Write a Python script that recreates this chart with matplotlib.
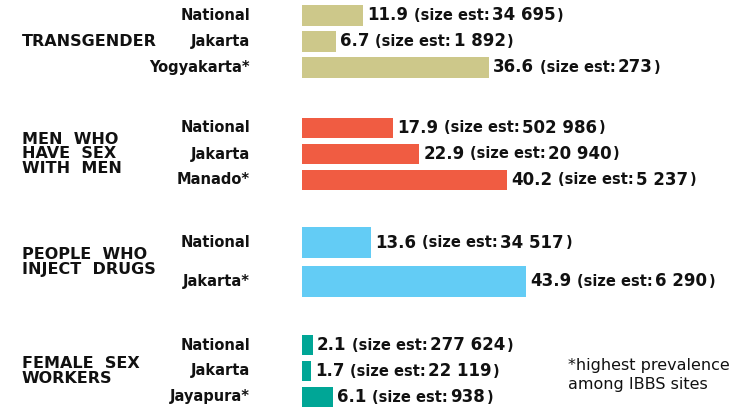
import matplotlib.pyplot as plt

plt.rcParams["font.family"] = ["DejaVu Sans"]

groups = ["TRANSGENDER", "MEN  WHO\nHAVE  SEX\nWITH  MEN", "PEOPLE  WHO\nINJECT  DRUGS", "FEMALE  SEX\nWORKERS"]
sites = [
    ["National", "Jakarta", "Yogyakarta*"],
    ["National", "Jakarta", "Manado*"],
    ["National", "Jakarta*"],
    ["National", "Jakarta", "Jayapura*"],
]
prevalence = [
    [11.9, 6.7, 36.6],
    [17.9, 22.9, 40.2],
    [13.6, 43.9],
    [2.1, 1.7, 6.1],
]
size_est = [
    ["34 695", "1 892", "273"],
    ["502 986", "20 940", "5 237"],
    ["34 517", "6 290"],
    ["277 624", "22 119", "938"],
]
colors = ["#CDC88A", "#F05C42", "#63CCF5", "#00A696"]
footnote = "*highest prevalence\namong IBBS sites"

# layout (pixel rows, top-down)
group_start = [15.5, 128, 242.5, 345]
row_pitch = [26, 26, 39, 26]
bar_h = [20.5, 20.5, 31, 20.5]

W, H = 749, 409
fig = plt.figure(figsize=(W / 100, H / 100), dpi=100)
ax = fig.add_axes([0, 0, 1, 1])
scale = 5.11  # px per percent
x0 = 302
ax.set_xlim(-x0 / scale, (W - x0) / scale)
ax.set_ylim(H, 0)
ax.axis("off")

for g in range(len(groups)):
    ys = [group_start[g] + i * row_pitch[g] for i in range(len(sites[g]))]
    ax.barh(ys, prevalence[g], height=bar_h[g], color=colors[g], left=0)
    ymid = sum(ys) / len(ys)
    ax.text(22 / W, ymid, groups[g], transform=ax.get_yaxis_transform(),
            fontsize=11.5, fontweight="bold", ha="left", va="center",
            linespacing=0.95, color="#111111")
    for i, y in enumerate(ys):
        ax.text(250 / W, y, sites[g][i], transform=ax.get_yaxis_transform(),
                fontsize=10.5, fontweight="bold", ha="right", va="center",
                color="#111111")
        t1 = ax.annotate(f"{prevalence[g][i]}", xy=(prevalence[g][i], y),
                         xytext=(3, 0), textcoords="offset points",
                         fontsize=12, fontweight="bold", va="center", ha="left",
                         color="#111111")
        t2 = ax.annotate("(size est: ", xy=(1, 0.5), xycoords=t1,
                         xytext=(4, 0), textcoords="offset points",
                         fontsize=10.5, fontweight="bold", va="center", ha="left",
                         color="#111111")
        t3 = ax.annotate(size_est[g][i], xy=(1, 0.5), xycoords=t2,
                         xytext=(-2, 0), textcoords="offset points",
                         fontsize=12, fontweight="bold", va="center", ha="left",
                         color="#111111")
        ax.annotate(")", xy=(1, 0.5), xycoords=t3,
                    xytext=(1, 0), textcoords="offset points",
                    fontsize=10.5, fontweight="bold", va="center", ha="left",
                    color="#111111")

ax.text(568 / W, 375, footnote, transform=ax.get_yaxis_transform(),
        fontsize=11.5, ha="left", va="center", linespacing=1.3, color="#111111")

fig.savefig("out.png", dpi=100)
